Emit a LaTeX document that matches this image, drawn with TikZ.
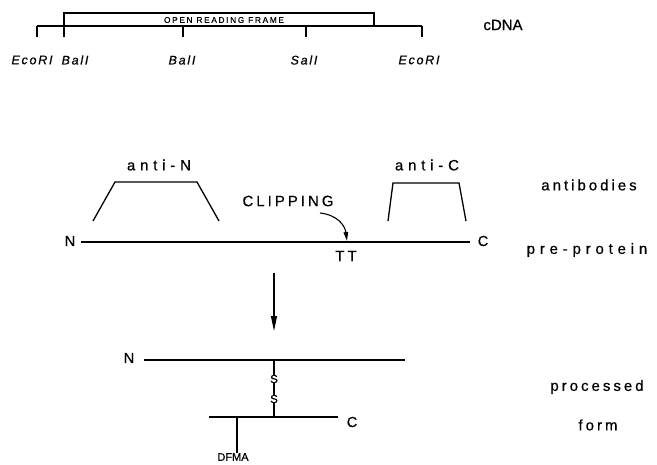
\documentclass[tikz,border=0pt]{standalone}
\usepackage{fontspec}
\setmainfont[FakeBold=0.6]{Liberation Sans}
\newfontfamily\spaced[LetterSpace=20,FakeBold=0.6]{Liberation Sans}
\newfontfamily\spacedw[LetterSpace=32,FakeBold=0.6]{Liberation Sans}
\newfontfamily\spacedn[LetterSpace=14,FakeBold=0.6]{Liberation Sans}
\usetikzlibrary{arrows.meta}
\begin{document}
\begin{tikzpicture}[x=1pt,y=-1pt,
  mapline/.style={line width=1.3pt},
  protline/.style={line width=1.8pt},
  abline/.style={line width=1.3pt},
  lbl/.style={inner sep=0pt},
  site/.style={lbl,font=\spacedn\itshape\fontsize{12.5}{12.5}\selectfont},
  side/.style={lbl,font=\spaced\fontsize{15}{15}\selectfont},
  wide/.style={lbl,font=\spacedw\fontsize{15}{15}\selectfont},
  term/.style={lbl,font=\fontsize{14.5}{14.5}\selectfont},
  small/.style={lbl,font=\fontsize{11.5}{11.5}\selectfont}]
\useasboundingbox (0,0) rectangle (657,464);

% cDNA map
\coordinate (e1) at (37,26);
\coordinate (b1) at (64,26);
\coordinate (b2) at (183,26);
\coordinate (s1) at (306,26);
\coordinate (e2) at (422,26);
\coordinate (orfTL) at (64,13);
\coordinate (orfTR) at (374,13);
\coordinate (orfR) at (374,26);
\draw[mapline] (e1) -- (e2);
\foreach \p in {e1,b1,b2,s1,e2} \draw[mapline] (\p) -- ++(0,11);
\draw[mapline] (b1) -- (orfTL) -- (orfTR) -- (orfR);
\node[lbl,font=\spaced\fontsize{8.3}{8.3}\selectfont] (orf) at (224,20) {OPEN READING FRAME};
\node[site] (le1) at (32,60) {EcoRI};
\node[site] (lb1) at (75,60) {BalI};
\node[site] (lb2) at (182,60) {BalI};
\node[site] (ls1) at (304,60) {SalI};
\node[site] (le2) at (419,60) {EcoRI};
\node[term,font=\fontsize{15}{15}\selectfont] (cdna) at (503,25) {cDNA};

% pre-protein
\node[term] (pN) at (70,241) {N};
\node[term] (pC) at (483,241) {C};
\coordinate (pL) at (81,242);
\coordinate (pR) at (470,242);
\draw[protline] (pL) -- (pR);
\draw[abline] (93,221) -- (115,182) -- (197,182) -- (219,221);
\node[wide] (antiN) at (159,165) {anti-N};
\draw[abline] (388,221) -- (393,183) -- (459,183) -- (466,221);
\node[wide] (antiC) at (427,165) {anti-C};
\node[side] (clip) at (288,201) {CLIPPING};
\coordinate (clipS) at (320,213);
\coordinate (clipE) at (347,241);
\draw[line width=1.1pt,-{Triangle[length=9pt,width=4.5pt]}] (clipS) .. controls (338,215) and (345,226) .. (clipE);
\node[side] (tt) at (346,256) {TT};
\node[side] (ab) at (589,185) {antibodies};
\node[wide] (pp) at (587,250) {pre-protein};

% processing arrow
\coordinate (aS) at (274,273);
\coordinate (aE) at (274,331);
\draw[line width=1.1pt,-{Triangle[length=15pt,width=6pt]}] (aS) -- (aE);

% processed form
\node[term] (fN) at (129,358) {N};
\coordinate (fL) at (144,360);
\coordinate (fR) at (405,360);
\coordinate (fM) at (274,360);
\draw[protline] (fL) -- (fR);
\node[small] (sA) at (274,379) {S};
\node[small] (sB) at (274,399) {S};
\coordinate (gL) at (209,417);
\coordinate (gR) at (338,417);
\coordinate (gM) at (274,417);
\draw[protline] (gL) -- (gR);
\draw[line width=1.2pt] (fM) -- (sA.north);
\draw[line width=1.2pt] (sA.south) -- (sB.north);
\draw[line width=1.2pt] (sB.south) -- (gM);
\node[term] (fC) at (352,422) {C};
\coordinate (dT) at (237,417);
\node[small,font=\fontsize{11}{11}\selectfont] (dfma) at (233,457) {DFMA};
\draw[line width=1.6pt] (dT) -- (dT |- dfma.north);
\node[side] (proc) at (597,387) {processed};
\node[side] (form) at (598,425) {form};
\end{tikzpicture}
\end{document}
